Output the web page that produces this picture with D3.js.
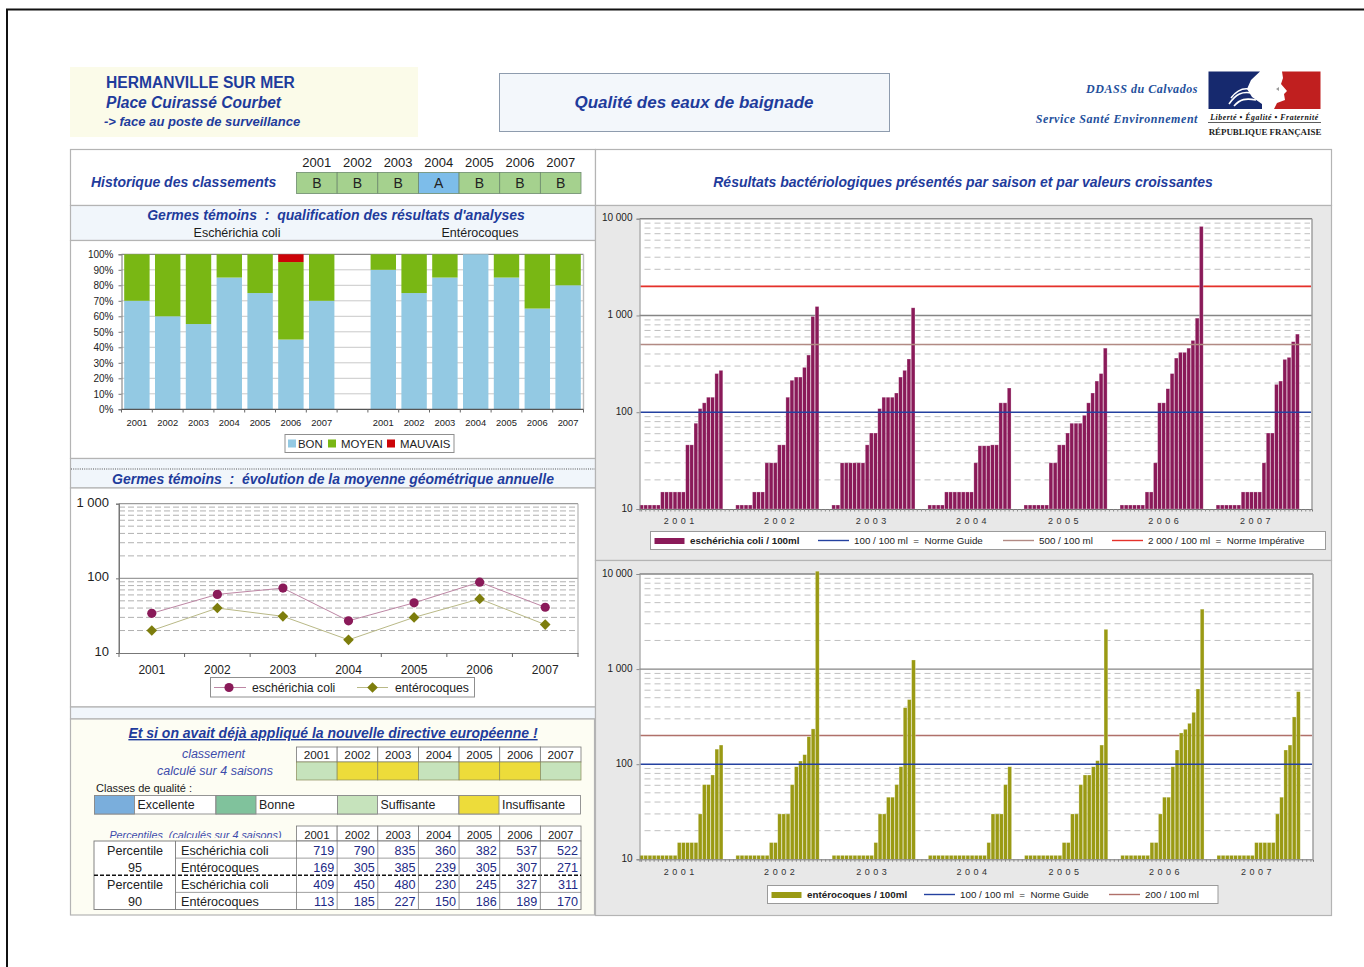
<!DOCTYPE html>
<html lang="fr"><head><meta charset="utf-8">
<script src="https://cdn.jsdelivr.net/npm/d3@7"></script>
<style>
html,body{margin:0;padding:0;background:#fff}
svg{display:block}
text{font-family:"Liberation Sans",Arial,sans-serif;white-space:pre}
</style></head><body><svg id="c" width="1364" height="967"></svg>
<script>
// ---------- data ----------
const years = ["2001","2002","2003","2004","2005","2006","2007"];
const classement = ["B","B","B","A","B","B","B"];
const ecoliBon = [70,60,55,85,75,45,70];
const ecoliMoyen = [30,40,45,15,25,50,30];
const ecoliMauvais = [0,0,0,0,0,5,0];
const enteroBon = [90,75,85,100,85,65,80];
const enteroMoyen = [10,25,15,0,15,35,20];
const enteroMauvais = [0,0,0,0,0,0,0];
const moyenneEcoli = [34,61,74,27,47,89,41];
const moyenneEntero = [20,40,31,15,30,53,24];
const ecoli2001 = [11,11,11,11,11,15,15,15,15,15,15,46,46,77,109,125,143,143,251,271];
const ecoli2002 = [11,11,11,11,15,15,15,30,30,30,46,46,143,214,231,231,291,390,978,1238];
const ecoli2003 = [11,11,30,30,30,30,30,30,46,61,61,109,143,143,143,158,231,271,355,1200];
const ecoli2004 = [11,11,11,11,15,15,15,15,15,15,15,30,45,45,45,46,46,125,125,178];
const ecoli2005 = [11,11,11,11,11,11,30,30,46,46,61,77,77,77,93,125,158,210,251,460];
const ecoli2006 = [11,11,11,11,11,11,15,15,30,125,125,175,251,363,416,416,460,552,939,8320];
const ecoli2007 = [11,11,11,11,11,11,15,15,15,15,15,30,61,61,194,210,352,369,536,642];
const entero2001 = [11,11,11,11,11,11,11,11,11,15,15,15,15,15,30,61,61,77,144,159];
const entero2002 = [11,11,11,11,11,11,11,11,15,15,30,30,30,61,94,108,126,195,235,10700];
const entero2003 = [11,11,11,11,11,11,11,11,11,11,15,30,30,45,45,61,94,393,478,1247];
const entero2004 = [11,11,11,11,11,11,11,11,11,11,11,11,11,11,15,30,30,30,61,94];
const entero2005 = [11,11,11,11,11,11,11,11,11,15,15,30,30,61,77,77,94,109,159,2620];
const entero2006 = [11,11,11,11,11,11,11,15,15,30,45,45,94,141,213,233,269,351,618,4270];
const entero2007 = [11,11,11,11,11,11,11,11,11,15,15,15,15,15,30,45,141,159,314,579];
const ecoliSeasons = [ecoli2001,ecoli2002,ecoli2003,ecoli2004,ecoli2005,ecoli2006,ecoli2007];
const enteroSeasons = [entero2001,entero2002,entero2003,entero2004,entero2005,entero2006,entero2007];
const seasonSlots = 23;
const yearLabelSample = [9,10,9,10,9,10,9];
const nouvelleClasse = ["Suffisante","Insuffisante","Insuffisante","Suffisante","Insuffisante","Insuffisante","Suffisante"];
const classesQualite = ["Excellente","Bonne","Suffisante","Insuffisante"];
const p95Ecoli = [719,790,835,360,382,537,522];
const p95Entero = [169,305,385,239,305,307,271];
const p90Ecoli = [409,450,480,230,245,327,311];
const p90Entero = [113,185,227,150,186,189,170];

// ---------- helpers ----------
const NAVY="#1f3c9c", INK="#1c1c1c", PANEL="#b4b4b4";
const svg=d3.select("#c");
const fr=d3.formatLocale({decimal:",",thousands:" ",grouping:[3],currency:["",""]}).format(",");
function rect(g,x,y,w,h,fill,stroke,sw){return g.append("rect").attr("x",x).attr("y",y).attr("width",w).attr("height",h)
  .attr("fill",fill||"none").attr("stroke",stroke||"none").attr("stroke-width",sw==null?1:sw);}
function text(g,x,y,s,o){o=o||{};const t=g.append("text").attr("x",x).attr("y",y).text(s)
  .attr("font-size",o.size||12).attr("fill",o.fill||INK).attr("text-anchor",o.anchor||"start");
  if(o.bold)t.attr("font-weight","bold"); if(o.italic)t.attr("font-style","italic");
  if(o.family)t.style("font-family",o.family); if(o.deco)t.attr("text-decoration",o.deco);
  if(o.ls)t.attr("letter-spacing",o.ls); return t;}
function hline(g,x1,x2,y,c,w,dash){const l=g.append("line").attr("x1",x1).attr("x2",x2).attr("y1",y).attr("y2",y).attr("stroke",c).attr("stroke-width",w||1);if(dash)l.attr("stroke-dasharray",dash);return l;}
function vline(g,x,y1,y2,c,w){return g.append("line").attr("x1",x).attr("x2",x).attr("y1",y1).attr("y2",y2).attr("stroke",c).attr("stroke-width",w||1);}
function minorValues(lo,hi){const out=[];for(let d=lo;d<hi;d*=10)for(let k=2;k<=9;k++)out.push(d*k);return out;}

// ---------- page frame ----------
hline(svg,6,1364,9.5,"#111",2);
vline(svg,7,9,967,"#111",2);

// ---------- header ----------
const head=svg.append("g");
rect(head,70,67,348,70,"#fbfbe9");
text(head,106,88,"HERMANVILLE SUR MER",{size:15.6,bold:true,fill:NAVY});
text(head,106,107.5,"Place Cuirassé Courbet",{size:15.6,bold:true,italic:true,fill:NAVY});
text(head,104,126,"-> face au poste de surveillance",{size:13,bold:true,italic:true,fill:NAVY});
rect(head,499.5,73.5,390,58,"#f3f7fb","#8e9cae",1);
text(head,694,108,"Qualité des eaux de baignade",{size:17,bold:true,italic:true,fill:NAVY,anchor:"middle"});
const serif='"Liberation Serif","DejaVu Serif",serif';
text(head,1198,92.5,"DDASS du Calvados",{size:12,bold:true,italic:true,fill:"#24509c",anchor:"end",family:serif,ls:.55});
text(head,1198,122.5,"Service Santé Environnement",{size:12,bold:true,italic:true,fill:"#24509c",anchor:"end",family:serif,ls:.55});
// logo
head.append("path").attr("fill","#16296e").attr("d","M1208.5 71.5H1260L1251 80L1247 89L1252 97L1262 104V109H1208.5Z");
head.append("path").attr("fill","#c01f1f").attr("d","M1282 71.5H1320.5V109H1274L1277 103L1285 100L1284 94L1287 91L1281 84L1283 78Z");
head.append("path").attr("fill","none").attr("stroke","#fff").attr("stroke-width",1.6).attr("d","M1229 104C1236 94 1242 91 1252 93M1234 106C1240 99 1246 98 1256 100M1231 98C1237 90 1243 88 1249 89");
head.append("path").attr("fill","#9a9a9a").attr("d","M1276 89l3 -2l0 4z");
text(head,1264.5,120,"Liberté • Égalité • Fraternité",{size:7.8,bold:true,italic:true,fill:"#111",anchor:"middle",family:serif,ls:.55});
hline(head,1208,1321,122.5,"#333",.8);
text(head,1265,135,"RÉPUBLIQUE FRANÇAISE",{size:8.9,bold:true,fill:"#222",anchor:"middle",family:serif});

// ---------- panels ----------
const panels=svg.append("g");
rect(panels,70.5,149.5,525,56,"#fff",PANEL,1.2);
rect(panels,70.5,205.5,525,35,"#f1f6fb",PANEL,1.2);
rect(panels,70.5,240.5,525,218,"#fff",PANEL,1.2);
rect(panels,70.5,458.5,525,29.5,"#f1f6fb",PANEL,1.2);
hline(panels,71,595,469,"#555",1.2,"1 1.2");
rect(panels,70.5,488,525,219,"#fff",PANEL,1.2);
rect(panels,70.5,707,525,12,"#f1f6fb",PANEL,1.2);
rect(panels,70.5,719,524,196,"#fdfdf3",PANEL,1.2);
rect(panels,595.5,149.5,736,56,"#fff",PANEL,1.2);
rect(panels,595.5,205.5,736,355,"#e8e8e8",PANEL,1.2);
rect(panels,595.5,560.5,736,355,"#e8e8e8",PANEL,1.2);

// ---------- historique ----------
const cellW=d3.scaleBand().domain(years).range([296.5,581]);
const hist=svg.append("g");
text(hist,91,187,"Historique des classements",{size:14,bold:true,italic:true,fill:NAVY});
years.forEach((y,i)=>{
  text(hist,cellW(y)+cellW.bandwidth()/2,166.5,y,{size:13,anchor:"middle"});
  rect(hist,cellW(y),172.5,cellW.bandwidth(),21,classement[i]==="A"?"#7dbdea":"#a5d18e","#6d8a6d",.8);
  text(hist,cellW(y)+cellW.bandwidth()/2,188,classement[i],{size:14,anchor:"middle",fill:"#222"});
});
text(hist,336,220,"Germes témoins  :  qualification des résultats d'analyses",{size:14,bold:true,italic:true,fill:NAVY,anchor:"middle"});
text(hist,237,236.5,"Eschérichia coli",{size:12.5,anchor:"middle"});
text(hist,480,236.5,"Entérocoques",{size:12.5,anchor:"middle"});

// ---------- stacked percentages ----------
(function(){
  const keys=["BON","MOYEN","MAUVAIS"], colors=["#93c9e3","#79b714","#cc0408"];
  const rows=[];
  years.forEach((y,i)=>rows.push({cat:"c"+y,label:y,BON:ecoliBon[i],MOYEN:ecoliMoyen[i],MAUVAIS:ecoliMauvais[i]}));
  rows.push({cat:"gap",label:"",BON:0,MOYEN:0,MAUVAIS:0});
  years.forEach((y,i)=>rows.push({cat:"e"+y,label:y,BON:enteroBon[i],MOYEN:enteroMoyen[i],MAUVAIS:enteroMauvais[i]}));
  const x=d3.scaleBand().domain(rows.map(r=>r.cat)).range([121.5,583.5]).paddingInner(.175).paddingOuter(.0875);
  const y=d3.scaleLinear().domain([0,100]).range([409.3,254.3]);
  const g=svg.append("g");
  rect(g,121.5,254.3,462,155,"#fff");
  y.ticks(10).forEach(v=>{if(v>0)hline(g,121.5,583.5,y(v),v===100?"#8a8a8a":"#c9c9c9",v===100?1.2:1);});
  vline(g,583.5,254.3,409.3,"#bdbdbd",1.4);
  const series=d3.stack().keys(keys)(rows);
  series.forEach((s,i)=>{
    g.append("g").selectAll("rect").data(s).join("rect")
      .attr("x",d=>x(d.data.cat)).attr("width",x.bandwidth())
      .attr("y",d=>y(d[1])).attr("height",d=>y(d[0])-y(d[1]))
      .attr("fill",colors[i]);
  });
  const ay=d3.axisLeft(y).tickValues(d3.range(0,101,10)).tickFormat(d=>d+"%").tickSize(3);
  const gy=g.append("g").attr("transform","translate(121.5,0)").call(ay);
  gy.selectAll("text").attr("font-size",10).attr("fill","#222").attr("dx",-2);
  gy.selectAll("line,path").attr("stroke","#777");
  const step=x.step();
  hline(g,121.5,583.5,409.3,"#555",1.2);
  rows.forEach((r,i)=>{const lx=x(r.cat)-x.paddingInner()*step/2;
    vline(g,lx,409.3,412.5,"#666",1);
    if(r.label)text(g,lx+step/2,426,r.label,{size:9.4,anchor:"middle",fill:"#222"});});
  vline(g,583.5,409.3,412.5,"#666",1);
  rect(g,285,434.5,169,18,"#fff","#8f8f8f",1);
  const lx=[288,328,387], tx=[298,341,400];
  keys.forEach((k,i)=>{rect(g,lx[i],439.5,8,8,colors[i]); text(g,tx[i],447.5,k,{size:11.4,fill:"#222"});});
})();

// ---------- geometric mean lines ----------
(function(){
  const g=svg.append("g");
  text(g,333,484,"Germes témoins  :  évolution de la moyenne géométrique annuelle",{size:14,bold:true,italic:true,fill:NAVY,anchor:"middle"});
  const x=d3.scaleBand().domain(years).range([119,578]);
  const y=d3.scaleLog().domain([10,1000]).range([653,503.7]);
  minorValues(10,1000).forEach(v=>hline(g,119,578,y(v),"#a8a8a8",.9,"6 3"));
  hline(g,119,578,y(100),"#9c9c9c",1.2);
  hline(g,119,578,y(1000),"#9c9c9c",1.2);
  vline(g,578,503.7,653,"#b5b5b5",1.2);
  vline(g,119,503.7,653,"#777",1);
  const ay=d3.axisLeft(y).tickValues([10,100,1000]).tickFormat(fr).tickSize(3);
  const gy=g.append("g").attr("transform","translate(119,0)").call(ay);
  gy.selectAll("text").attr("font-size",13).attr("fill","#222").attr("dx",-4).attr("dy","0.2em");
  gy.selectAll("line,path").attr("stroke","#777");
  const ax=d3.axisBottom(x).tickSize(0);
  const gx=g.append("g").attr("transform","translate(0,653)").call(ax);
  gx.selectAll("text").attr("font-size",12).attr("fill","#222").attr("dy",18);
  gx.selectAll("path").attr("stroke","#777");
  years.forEach(v=>vline(g,x(v),653,657,"#666",1)); vline(g,578,653,657,"#666",1);
  const line=d3.line().x((d,i)=>x(years[i])+x.bandwidth()/2).y(d=>y(d));
  g.append("path").attr("d",line(moyenneEcoli)).attr("fill","none").attr("stroke","#bd86a4").attr("stroke-width",1);
  g.append("path").attr("d",line(moyenneEntero)).attr("fill","none").attr("stroke","#b9b987").attr("stroke-width",1);
  const diamond=d3.symbol().type(d3.symbolDiamond2).size(72);
  g.append("g").selectAll("circle").data(moyenneEcoli).join("circle")
    .attr("cx",(d,i)=>x(years[i])+x.bandwidth()/2).attr("cy",d=>y(d)).attr("r",4.6).attr("fill","#8a1a59");
  g.append("g").selectAll("path").data(moyenneEntero).join("path")
    .attr("transform",(d,i)=>`translate(${x(years[i])+x.bandwidth()/2},${y(d)})`).attr("d",diamond()).attr("fill","#7d7d0c");
  rect(g,210.5,677.5,264,19.5,"#fff","#8f8f8f",1);
  hline(g,214,246,687.5,"#bd86a4",1); g.append("circle").attr("cx",229).attr("cy",687.5).attr("r",4.6).attr("fill","#8a1a59");
  text(g,252,691.5,"eschérichia coli",{size:12.2,fill:"#222"});
  hline(g,357,388,687.5,"#b9b987",1); g.append("path").attr("transform","translate(372.5,687.5)").attr("d",diamond()).attr("fill","#7d7d0c");
  text(g,395,691.5,"entérocoques",{size:12.2,fill:"#222"});
})();

// ---------- directive panel ----------
(function(){
  const g=svg.append("g");
  const classColor={"Excellente":"#7aaedc","Bonne":"#80c29c","Suffisante":"#c6e3bc","Insuffisante":"#eddc3a"};
  text(g,333,738,"Et si on avait déjà appliqué la nouvelle directive européenne !",{size:14,bold:true,italic:true,fill:NAVY,anchor:"middle",deco:"underline"});
  text(g,213.5,758,"classement",{size:12.5,italic:true,fill:"#3d4cab",anchor:"middle"});
  text(g,215,775,"calculé sur 4 saisons",{size:12.5,italic:true,fill:"#3d4cab",anchor:"middle"});
  years.forEach((y,i)=>{const xx=cellW(y),w=cellW.bandwidth();
    rect(g,xx,747,w,15,"#fff","#777",.8);
    text(g,xx+w/2,758.5,y,{size:11.8,anchor:"middle"});
    rect(g,xx,762,w,18,classColor[nouvelleClasse[i]],"#8a8a5a",.7);
  });
  text(g,96,792,"Classes de qualité :",{size:11,fill:"#222"});
  const cx=d3.scaleBand().domain(classesQualite).range([94.5,580.5]);
  const w=cx.bandwidth();
  classesQualite.forEach(c=>{
    rect(g,cx(c),795.5,w,18.5,"#fff","#8a8a8a",.9);
    rect(g,cx(c),795.5,40,18.5,classColor[c],"#8a8a8a",.9);
    text(g,cx(c)+43,809,c,{size:12.4,fill:"#222"});
  });
  text(g,195.5,839,"Percentiles  (calculés sur 4 saisons)",{size:10.8,italic:true,fill:"#3d4cab",anchor:"middle"});
  rect(g,94,838,202,4,"#fdfdf3");
  years.forEach(y=>{rect(g,cellW(y),826,cellW.bandwidth(),15,"#fff","#777",.8);
    text(g,cellW(y)+cellW.bandwidth()/2,838.5,y,{size:11.4,anchor:"middle"});});
  const tRows=[["Eschérichia coli",p95Ecoli],["Entérocoques",p95Entero],["Eschérichia coli",p90Ecoli],["Entérocoques",p90Entero]];
  const ry=d3.scaleBand().domain(d3.range(4)).range([841,909.5]);
  const h=ry.bandwidth();
  rect(g,94,841,487,68.5,"#fff","#777",.9);
  tRows.forEach((r,i)=>{
    text(g,181,ry(i)+13.5,r[0],{size:12.6,fill:"#222"});
    r[1].forEach((v,j)=>text(g,cellW(years[j])+cellW.bandwidth()-3,ry(i)+13.5,String(v),{size:12.6,anchor:"end",fill:"#1d2a86"}));
  });
  hline(g,175.5,581,ry(1),"#888",.8); hline(g,175.5,581,ry(3),"#888",.8);
  hline(g,94,581,ry(2),"#111",1.5,"4 2");
  vline(g,175.5,841,909.5,"#777",.9);
  years.forEach(y=>vline(g,cellW(y),841,909.5,"#777",.8));
  text(g,135,ry(0)+13.5,"Percentile",{size:12.6,anchor:"middle",fill:"#222"});
  text(g,135,ry(1)+13.5,"95",{size:12.6,anchor:"middle",fill:"#222"});
  text(g,135,ry(2)+13.5,"Percentile",{size:12.6,anchor:"middle",fill:"#222"});
  text(g,135,ry(3)+13.5,"90",{size:12.6,anchor:"middle",fill:"#222"});
})();

// ---------- bacteriological columns ----------
text(svg,963,187,"Résultats bactériologiques présentés par saison et par valeurs croissantes",{size:14,bold:true,italic:true,fill:NAVY,anchor:"middle"});
function barChart(o){
  const g=svg.append("g");
  const slots=d3.range(years.length*seasonSlots);
  const x=d3.scaleBand().domain(slots).range([o.left,o.right]);
  const y=d3.scaleLog().domain([10,10000]).range([o.bottom,o.top]);
  rect(g,o.left,o.top,o.right-o.left,o.bottom-o.top,"#fff");
  minorValues(10,10000).forEach(v=>hline(g,o.left+5,o.right-2,y(v),"#b9b9b9",.9,"6 4"));
  [1000,10000].forEach(v=>hline(g,o.left,o.right,y(v),"#858585",1.4));
  vline(g,o.right,o.top,o.bottom,"#9a9a9a",1.4);
  const bars=[];
  o.seasons.forEach((s,yi)=>s.forEach((v,k)=>bars.push({slot:yi*seasonSlots+k,v})));
  o.norms.forEach(n=>{if(!n.front)hline(g,o.left+1,o.right-1,y(n.v),n.c,1.6);});
  g.append("g").selectAll("rect").data(bars).join("rect")
    .attr("x",d=>x(d.slot)+.2).attr("width",x.bandwidth()-.4)
    .attr("y",d=>y(d.v)).attr("height",d=>y(10)-y(d.v)).attr("fill",o.color)
    .attr("stroke","#fff").attr("stroke-opacity",.45).attr("stroke-width",.6);
  o.norms.forEach(n=>{if(n.front)hline(g,o.left+1,o.right-1,y(n.v),n.c,1.5);});
  const ay=d3.axisLeft(y).tickValues([10,100,1000,10000]).tickFormat(fr).tickSize(3);
  const gy=g.append("g").attr("transform",`translate(${o.left},0)`).call(ay);
  gy.selectAll("text").attr("font-size",10).attr("fill","#222").attr("dx",-1).attr("dy","0.2em");
  gy.selectAll("line,path").attr("stroke","#8a8a8a");
  const labelSlots=years.map((yy,i)=>i*seasonSlots+yearLabelSample[i]);
  const ax=d3.axisBottom(x).tickValues(slots).tickFormat(d=>{const i=labelSlots.indexOf(d);return i<0?"":years[i].split("").join(" ");}).tickSize(2.5).tickPadding(6.5);
  const gx=g.append("g").attr("transform",`translate(0,${o.bottom})`).call(ax);
  gx.selectAll("text").attr("font-size",9).attr("fill","#333").attr("letter-spacing",".5");
  gx.selectAll("line").attr("stroke","#888");
  gx.selectAll("path").attr("stroke","#777");
  const L=o.legend;
  rect(g,L.x0,L.y,L.x1-L.x0,18,"#fff","#9a9a9a",1);
  rect(g,L.x0+4,L.y+6.5,30,6,o.color);
  text(g,L.x0+39.5,L.y+12.8,L.label,{size:9.8,bold:true,fill:"#222"});
  L.items.forEach(it=>{hline(g,it.x,it.x+31,L.y+9,it.c,1.4); text(g,it.x+36,L.y+12.8,it.t,{size:9.8,fill:"#222"});});
}
barChart({left:639.5,right:1312,top:218.7,bottom:509,seasons:ecoliSeasons,color:"#8a1a59",
  norms:[{v:2000,c:"#e5312a"},{v:500,c:"#b28a84",front:true},{v:100,c:"#2441a0",front:true}],
  legend:{x0:650.5,x1:1325.5,y:531.5,label:"eschérichia coli / 100ml",items:[
    {x:818,c:"#2441a0",t:"100 / 100 ml  =  Norme Guide"},{x:1003,c:"#b28a84",t:"500 / 100 ml"},{x:1112,c:"#e5312a",t:"2 000 / 100 ml  =  Norme Impérative"}]}});
barChart({left:639.5,right:1313,top:574,bottom:859.3,seasons:enteroSeasons,color:"#9a9a14",
  norms:[{v:200,c:"#b0706a"},{v:100,c:"#2441a0",front:true}],
  legend:{x0:767.5,x1:1218,y:885.5,label:"entérocoques / 100ml",items:[
    {x:924,c:"#2441a0",t:"100 / 100 ml  =  Norme Guide"},{x:1109,c:"#b0706a",t:"200 / 100 ml"}]}});
</script></body></html>
